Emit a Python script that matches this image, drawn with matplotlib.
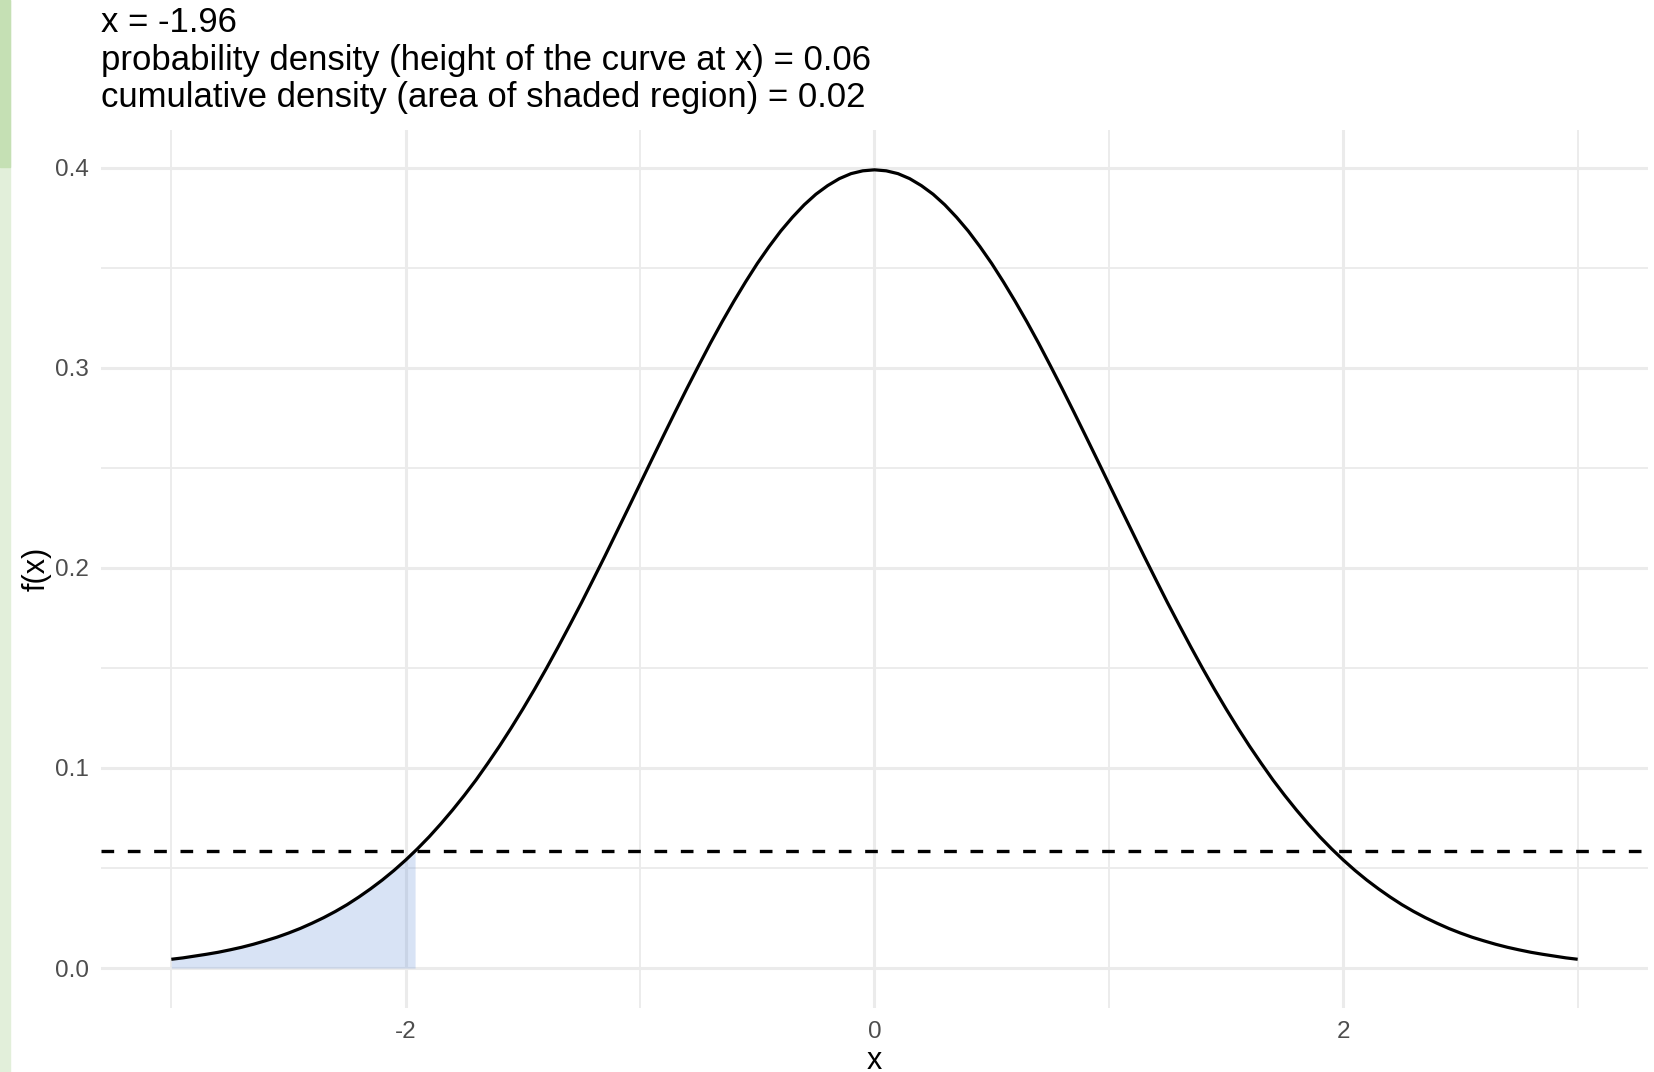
import matplotlib
matplotlib.use('Agg')
import matplotlib.pyplot as plt
import numpy as np
from matplotlib.patches import Rectangle
from matplotlib.ticker import MultipleLocator

# values
x_val = -1.96
dens_at_x = 0.0584
title_lines = ['x = -1.96',
               'probability density (height of the curve at x) = 0.06',
               'cumulative density (area of shaded region) = 0.02']

curve_x = [round(-3 + 0.05 * i, 2) for i in range(121)]
curve_y = [0.0044, 0.0051, 0.0060, 0.0069, 0.0079, 0.0091, 0.0104, 0.0119, 0.0136, 0.0154,
           0.0175, 0.0198, 0.0224, 0.0252, 0.0283, 0.0317, 0.0355, 0.0396, 0.0440, 0.0488,
           0.0540, 0.0596, 0.0656, 0.0721, 0.0790, 0.0863, 0.0940, 0.1023, 0.1109, 0.1200,
           0.1295, 0.1394, 0.1497, 0.1604, 0.1714, 0.1826, 0.1942, 0.2059, 0.2179, 0.2299,
           0.2420, 0.2541, 0.2661, 0.2780, 0.2897, 0.3011, 0.3123, 0.3230, 0.3332, 0.3429,
           0.3521, 0.3605, 0.3683, 0.3752, 0.3814, 0.3867, 0.3910, 0.3945, 0.3970, 0.3984,
           0.3989,
           0.3984, 0.3970, 0.3945, 0.3910, 0.3867, 0.3814, 0.3752, 0.3683, 0.3605, 0.3521,
           0.3429, 0.3332, 0.3230, 0.3123, 0.3011, 0.2897, 0.2780, 0.2661, 0.2541, 0.2420,
           0.2299, 0.2179, 0.2059, 0.1942, 0.1826, 0.1714, 0.1604, 0.1497, 0.1394, 0.1295,
           0.1200, 0.1109, 0.1023, 0.0940, 0.0863, 0.0790, 0.0721, 0.0656, 0.0596, 0.0540,
           0.0488, 0.0440, 0.0396, 0.0355, 0.0317, 0.0283, 0.0252, 0.0224, 0.0198, 0.0175,
           0.0154, 0.0136, 0.0119, 0.0104, 0.0091, 0.0079, 0.0069, 0.0060, 0.0051, 0.0044]

shade_x = curve_x[:21] + [x_val]
shade_y = curve_y[:21] + [dens_at_x]

x_ticks = [-2, 0, 2]
y_ticks = [0.0, 0.1, 0.2, 0.3, 0.4]

W, H = 1654, 1072
fig = plt.figure(figsize=(W / 100, H / 100), dpi=100)
plt.rcParams['font.family'] = ['Liberation Sans', 'DejaVu Sans']

# green strip along the left edge of the screenshot
fig.patches.append(Rectangle((0, 0), 10 / W, 1, transform=fig.transFigure, color='#e2efda', zorder=0))
fig.patches.append(Rectangle((0, 1 - 167 / H), 10 / W, 167 / H, transform=fig.transFigure, color='#c5e0b4', zorder=1))

left, right, top, bottom = 101, 1648, 129.8, 1008
ax = fig.add_axes([left / W, 1 - bottom / H, (right - left) / W, (bottom - top) / H])
ax.set_facecolor('white')
for s in ax.spines.values():
	s.set_visible(False)

ax.set_xlim(-3.3, 3.3)
ax.set_ylim(-0.01995, 0.4189)
ax.set_xticks(x_ticks)
ax.set_yticks(y_ticks)
ax.set_xticklabels([str(t) for t in x_ticks])
ax.set_yticklabels(['{:.1f}'.format(t) for t in y_ticks])
ax.xaxis.set_minor_locator(MultipleLocator(1))
ax.yaxis.set_minor_locator(MultipleLocator(0.05))
ax.tick_params(which='both', length=0, colors='#4d4d4d', labelsize=17.5)
ax.tick_params(axis='y', pad=8.5)
ax.tick_params(axis='x', pad=9)
ax.set_axisbelow(True)
ax.grid(which='major', color='#ebebeb', lw=2.2)
ax.grid(which='minor', color='#ebebeb', lw=1.3)

ax.fill_between(shade_x, 0, shade_y, color=(0.40, 0.57, 0.85), alpha=0.25, lw=0, zorder=2)
ax.plot(curve_x, curve_y, color='black', lw=2.3, zorder=3, solid_capstyle='butt')
ax.axhline(dens_at_x, color='black', lw=2.4, dashes=(3.8, 4.1), zorder=4)

ax.set_xlabel('x', fontsize=22)
ax.xaxis.set_label_coords(0.5, (bottom - 1069) / (bottom - top))
ax.xaxis.label.set_va('baseline')
ax.set_ylabel('f(x)', fontsize=22)
ax.yaxis.set_label_coords((37 - left) / (right - left), 0.5)
ax.yaxis.label.set_va('center')

for line, base in zip(title_lines, [32, 70, 107]):
	fig.text(left / W, 1 - base / H, line, fontsize=25, va='baseline', ha='left')

plt.savefig('out.png', dpi=100)
